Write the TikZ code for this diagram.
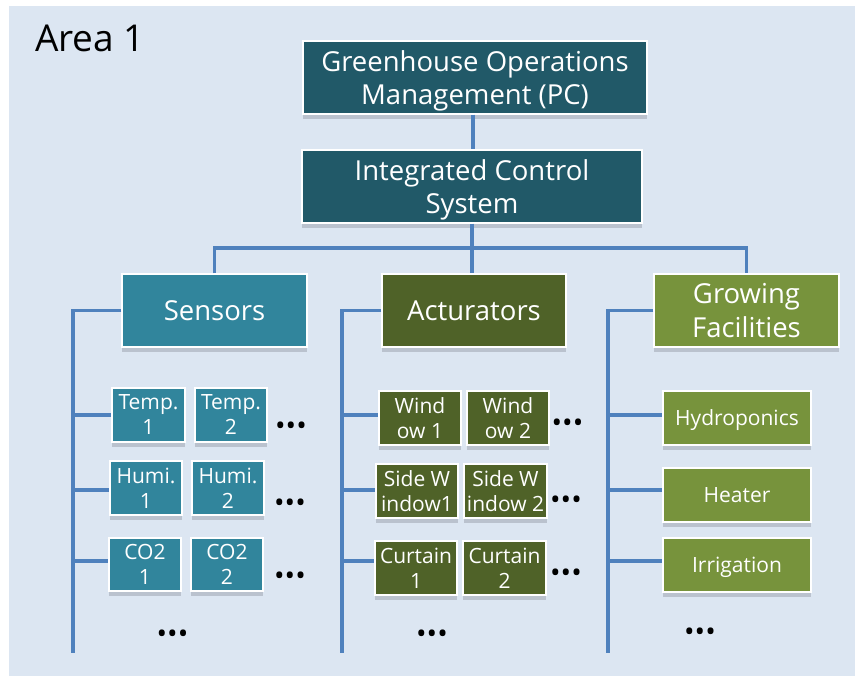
\documentclass[tikz,border=0pt]{standalone}
\usepackage{fontspec}
\setmainfont{Open Sans}
\usetikzlibrary{shadows}
\definecolor{bgc}{HTML}{DCE6F2}
\definecolor{darkteal}{HTML}{215968}
\definecolor{teal}{HTML}{31859C}
\definecolor{darkolive}{HTML}{4F6228}
\definecolor{olive}{HTML}{77933C}
\definecolor{linec}{HTML}{4F81BD}
\definecolor{shadowc}{HTML}{BAC2CE}
\begin{document}
\begin{tikzpicture}[x=1pt,y=-1pt,
  box/.style={draw=white, line width=1.2pt, text=white, align=center, inner sep=0pt, text depth=0pt,
    drop shadow={shadow xshift=0pt, shadow yshift=-5pt, fill=shadowc, opacity=1}},
  bigbox/.style={box, font=\fontsize{27.5}{33.5}\selectfont, minimum height=73pt},
  smallbox/.style={box, font=\fontsize{21}{25}\selectfont, minimum height=54pt},
  conn/.style={draw=linec, line width=3.3pt, line join=miter},
  dots/.style={inner sep=0pt, font=\fontsize{28}{30}\selectfont, text=black}]
\useasboundingbox (0,0) rectangle (857,676);
\fill[white] (0,0) rectangle (857,676);
\fill[bgc] (9,6) rectangle (855,676);

\node[anchor=base west, inner sep=0pt, font=\fontsize{37}{40}\selectfont] (area) at (35,52) {Area 1};

% top level
\node[bigbox, fill=darkteal, minimum width=344pt] (gom) at (475,77.5) {Greenhouse Operations\\Management (PC)};
\node[bigbox, fill=darkteal, minimum width=340pt] (ics) at (472,186.5) {Integrated Control\\System};

% second level
\node[bigbox, fill=teal, minimum width=185pt] (sens) at (214.5,310.5) {Sensors};
\node[bigbox, fill=darkolive, minimum width=184pt] (act) at (474,310.5) {Acturators};
\node[bigbox, fill=olive, minimum width=185pt] (grow) at (746.5,310.5) {Growing\\Facilities};

% sensors
\node[smallbox, fill=teal, minimum width=73pt] (t1) at (148.5,415) {Temp.\\1};
\node[smallbox, fill=teal, minimum width=72pt] (t2) at (231,415) {Temp.\\2};
\node[smallbox, fill=teal, minimum width=72pt] (h1) at (146,488) {Humi.\\1};
\node[smallbox, fill=teal, minimum width=72pt] (h2) at (228,488) {Humi.\\2};
\node[smallbox, fill=teal, minimum width=72pt, minimum height=53pt] (c1) at (145,564.5) {CO2\\1};
\node[smallbox, fill=teal, minimum width=72pt, minimum height=53pt] (c2) at (227,564.5) {CO2\\2};

% actuators
\node[smallbox, fill=darkolive, minimum width=82pt] (w1) at (420,418) {Wind\\ow 1};
\node[smallbox, fill=darkolive, minimum width=82pt] (w2) at (508,418) {Wind\\ow 2};
\node[smallbox, fill=darkolive, minimum width=82pt] (sw1) at (417,491) {Side W\\indow1};
\node[smallbox, fill=darkolive, minimum width=83pt] (sw2) at (505.5,491) {Side W\\indow 2};
\node[smallbox, fill=darkolive, minimum width=82pt] (cu1) at (416,568) {Curtain\\1};
\node[smallbox, fill=darkolive, minimum width=83pt] (cu2) at (504.5,568) {Curtain\\2};

% growing facilities
\node[smallbox, fill=olive, minimum width=148pt] (hy) at (737,418) {Hydroponics};
\node[smallbox, fill=olive, minimum width=148pt] (he) at (737,495) {Heater};
\node[smallbox, fill=olive, minimum width=148pt] (ir) at (737,565) {Irrigation};

% dots
\node[dots] (d1) at (291,429) {•••};
\node[dots] (d2) at (290,506) {•••};
\node[dots] (d3) at (290,579) {•••};
\node[dots] (d4) at (172.5,637) {•••};
\node[dots] (d5) at (567.5,426) {•••};
\node[dots] (d6) at (566,503) {•••};
\node[dots] (d7) at (566,576) {•••};
\node[dots] (d8) at (432,637) {•••};
\node[dots] (d9) at (700,635) {•••};

% connectors
\coordinate (busy) at (0,248);
\coordinate (r1) at (0,415);
\coordinate (r2) at (0,490);
\coordinate (r3) at (0,561);
\coordinate (sl) at (73,653);
\coordinate (al) at (342,653);
\coordinate (gl) at (608,653);

\draw[conn] (gom.south -| 473,0) -- (ics.north -| 473,0);
\draw[conn] (sens.north) -- (sens.north |- busy) -- (grow.north |- busy) -- (grow.north);
\draw[conn] (ics.south) -- (ics.south |- act.north);

\draw[conn] (sens.west) -| (sl);
\draw[conn] (act.west) -| (al);
\draw[conn] (grow.west) -| (gl);

\draw[conn] (sl |- r1) -- (t1.west |- r1);
\draw[conn] (sl |- r2) -- (h1.west |- r2);
\draw[conn] (sl |- r3) -- (c1.west |- r3);
\draw[conn] (al |- r1) -- (w1.west |- r1);
\draw[conn] (al |- r2) -- (sw1.west |- r2);
\draw[conn] (al |- r3) -- (cu1.west |- r3);
\draw[conn] (gl |- r1) -- (hy.west |- r1);
\draw[conn] (gl |- r2) -- (he.west |- r2);
\draw[conn] (gl |- r3) -- (ir.west |- r3);
\end{tikzpicture}
\end{document}
